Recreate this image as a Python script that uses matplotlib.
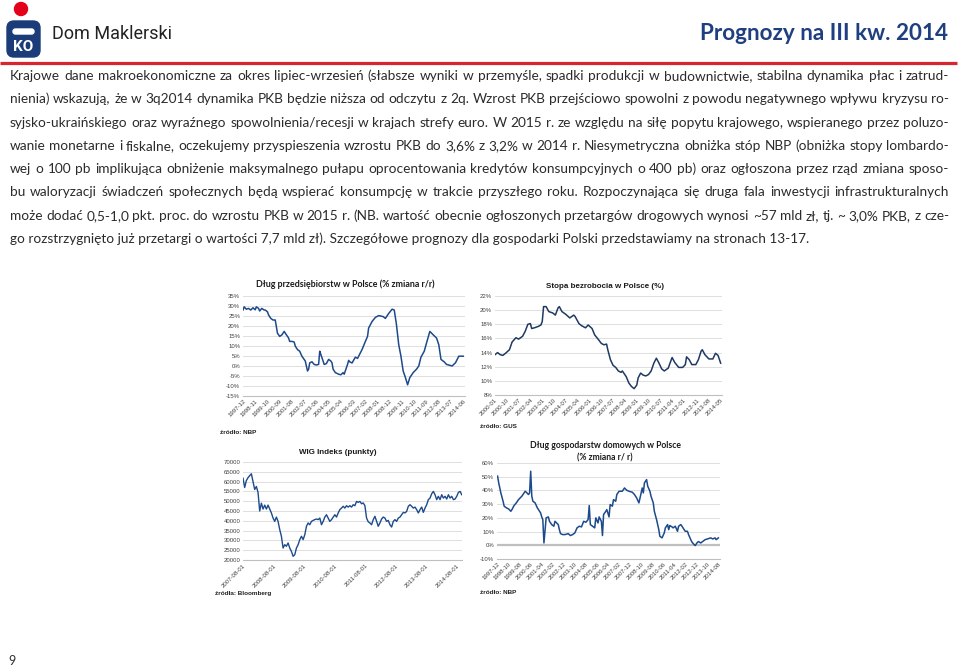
import matplotlib
matplotlib.use("Agg")
import matplotlib.pyplot as plt
from matplotlib.patches import Circle, FancyBboxPatch
from matplotlib.ticker import FuncFormatter
import numpy as np
import pandas as pd

W, H = 960, 668

# ---------------- data ----------------
# Dlug przedsiebiorstw (% r/r), NBP
corp_dates = ["1997-12", "1998-01", "1998-03", "1998-05", "1998-07", "1998-09", "1998-11", "1998-12",
              "1999-02", "1999-03", "1999-05", "1999-07", "1999-08", "1999-10", "1999-11", "2000-01",
              "2000-03", "2000-05", "2000-06", "2000-07", "2000-09", "2000-11", "2001-01", "2001-02",
              "2001-05", "2001-06", "2001-08", "2001-10", "2001-11", "2002-01", "2002-03", "2002-05",
              "2002-07", "2002-08", "2002-10", "2002-11", "2002-12", "2003-02", "2003-04", "2003-06",
              "2003-08", "2003-09", "2003-10", "2003-12", "2004-01", "2004-03", "2004-05", "2004-07",
              "2004-08", "2004-09", "2004-11", "2005-02", "2005-04", "2005-06", "2005-07", "2005-10",
              "2005-11", "2005-12", "2006-02", "2006-05", "2006-07", "2006-11", "2007-02", "2007-04",
              "2007-05", "2007-08", "2007-11", "2008-02", "2008-06", "2008-08", "2008-11", "2009-02",
              "2009-04", "2009-06", "2009-08", "2009-10", "2009-12", "2010-02", "2010-04", "2010-06",
              "2010-09", "2010-12", "2011-02", "2011-04", "2011-07", "2011-09", "2011-12", "2012-03",
              "2012-06", "2012-08", "2012-10", "2013-01", "2013-03", "2013-05", "2013-08", "2013-11",
              "2014-02", "2014-06"]
corp_vals = [28.0, 29.6, 28.4, 28.8, 28.0, 29.1, 28.1, 29.6,
             28.8, 27.5, 28.8, 28.0, 28.0, 27.1, 25.5, 23.8,
             23.0, 23.0, 19.7, 16.4, 14.8, 15.6, 17.3, 16.4,
             14.0, 12.3, 12.3, 12.0, 9.9, 8.2, 7.4, 4.9,
             3.3, 2.5, -2.5, -1.6, 1.6, 2.1, 0.8, 0.5,
             0.8, 7.4, 5.8, 2.5, 0.8, 1.2, 3.3, 2.5,
             1.6, -1.6, -3.3, -4.1, -4.4, -3.3, -4.1, 0.8,
             2.8, 2.1, 1.5, 4.4, 3.8, 8.2, 12.3, 14.8,
             19.0, 22.2, 24.3, 25.2, 24.7, 23.8, 26.3, 28.4,
             28.0, 20.6, 10.7, 4.9, -2.5, -5.8, -9.4, -5.8,
             -3.3, -1.6, 0.0, 4.4, 7.4, 11.5, 17.3, 15.6,
             14.0, 10.7, 3.3, 2.0, 0.8, 0.5, 0.0, 1.6,
             4.9, 4.9]
corp_ticks = ["1997-12", "1998-11", "1999-10", "2000-09", "2001-08", "2002-07", "2003-06", "2004-05",
              "2005-04", "2006-03", "2007-02", "2008-01", "2008-12", "2009-11", "2010-10", "2011-09",
              "2012-08", "2013-07", "2014-06"]

# Stopa bezrobocia (%), GUS
unemp_dates = ["2000-01", "2000-03", "2000-05", "2000-07", "2000-09", "2000-12", "2001-02", "2001-05",
               "2001-07", "2001-10", "2001-12", "2002-02", "2002-04", "2002-05", "2002-07", "2002-10",
               "2002-12", "2003-01", "2003-02", "2003-04", "2003-06", "2003-09", "2003-11", "2004-01",
               "2004-02", "2004-04", "2004-07", "2004-10", "2005-01", "2005-02", "2005-05", "2005-07",
               "2005-10", "2005-12", "2006-03", "2006-05", "2006-08", "2006-10", "2006-12", "2007-02",
               "2007-03", "2007-05", "2007-07", "2007-09", "2007-11", "2008-01", "2008-02", "2008-05",
               "2008-07", "2008-09", "2008-11", "2009-01", "2009-02", "2009-04", "2009-06", "2009-08",
               "2009-10", "2009-12", "2010-02", "2010-04", "2010-06", "2010-08", "2010-10", "2011-01",
               "2011-03", "2011-04", "2011-06", "2011-09", "2011-12", "2012-02", "2012-03", "2012-05",
               "2012-07", "2012-10", "2012-12", "2013-02", "2013-03", "2013-05", "2013-08", "2013-11",
               "2014-01", "2014-03", "2014-05"]
unemp_vals = [13.7, 14.0, 13.7, 13.6, 13.9, 14.4, 15.5, 16.1,
              15.9, 16.3, 17.0, 18.0, 18.1, 17.4, 17.5, 17.7,
              17.9, 18.4, 20.5, 20.5, 19.8, 19.6, 19.3, 20.3,
              20.5, 19.8, 19.4, 18.9, 19.3, 19.1, 18.1, 17.8,
              17.5, 17.9, 17.4, 16.5, 15.8, 15.3, 15.1, 15.2,
              14.4, 13.0, 12.2, 11.9, 11.4, 11.2, 11.4, 10.6,
              9.7, 9.2, 8.9, 9.4, 10.4, 11.1, 10.8, 10.7,
              10.9, 11.4, 12.5, 13.2, 12.5, 11.7, 11.4, 11.8,
              12.8, 13.3, 12.6, 11.9, 11.9, 12.3, 13.4, 13.0,
              12.3, 12.3, 13.0, 14.2, 14.4, 13.7, 13.1, 13.1,
              13.9, 13.6, 12.5]
unemp_ticks = ["2000-01", "2000-10", "2001-07", "2002-04", "2003-01", "2003-10", "2004-07", "2005-04",
               "2006-01", "2006-10", "2007-07", "2008-04", "2009-01", "2009-10", "2010-07", "2011-04",
               "2012-01", "2012-11", "2013-08", "2014-05"]

# WIG (punkty), Bloomberg - one reading every 20 days from 2007-08-01
wig_start = "2007-08-01"
wig_vals = [61800, 57000, 60500, 62000, 63000, 64000, 60000, 56000, 57500, 54500,
            45000, 49000, 46000, 48000, 46000, 48000, 46000, 44000, 41400, 39700,
            41900, 39700, 35500, 32100, 26100, 27800, 27000, 28700, 26100, 24400,
            21900, 22700, 26100, 27800, 30400, 32100, 30400, 32900, 37200, 38900,
            38000, 39700, 40200, 40600, 40900, 40600, 41400, 38000, 39700, 41900,
            43100, 41400, 39700, 40600, 41900, 43100, 41900, 44000, 45700, 46500,
            47400, 46500, 47700, 47000, 47700, 47000, 48200, 47700, 49900, 49400,
            49900, 48700, 49100, 47700, 41400, 39500, 38900, 38000, 40600, 42300,
            39700, 37200, 38900, 40900, 41900, 41400, 39700, 40200, 38000, 36800,
            39700, 40600, 39700, 41400, 41900, 43100, 44300, 44000, 44800, 47400,
            48200, 47400, 46500, 47000, 45700, 44000, 45700, 47000, 44300, 46500,
            48200, 50800, 51600, 53800, 55000, 53300, 50800, 52500, 50800, 53300,
            51600, 52500, 51100, 53300, 51600, 52500, 50800, 51100, 52500, 54500,
            55000, 53300]
wig_ticks = ["2007-08-01", "2008-08-01", "2009-08-01", "2010-08-01", "2011-08-01", "2012-08-01",
             "2013-08-01", "2014-08-01"]

# Dlug gospodarstw domowych (% r/r), NBP
hh_dates = ["1997-12", "1998-01", "1998-03", "1998-05", "1998-06", "1998-08", "1998-10", "1998-12",
            "1999-01", "1999-03", "1999-05", "1999-07", "1999-10", "1999-11", "2000-01", "2000-02",
            "2000-04", "2000-05", "2000-06", "2000-07", "2000-08", "2000-10", "2000-12", "2001-03",
            "2001-04", "2001-05", "2001-06", "2001-08", "2001-10", "2001-11", "2002-01", "2002-03",
            "2002-04", "2002-07", "2002-08", "2002-09", "2002-11", "2003-01", "2003-04", "2003-06",
            "2003-08", "2003-10", "2003-12", "2004-02", "2004-04", "2004-06", "2004-08", "2004-10",
            "2004-11", "2004-12", "2005-02", "2005-04", "2005-05", "2005-07", "2005-08", "2005-10",
            "2005-11", "2005-12", "2006-02", "2006-03", "2006-05", "2006-06", "2006-08", "2006-09",
            "2006-11", "2006-12", "2007-02", "2007-05", "2007-07", "2007-09", "2007-11", "2008-02",
            "2008-04", "2008-06", "2008-08", "2008-09", "2008-11", "2008-12", "2009-01", "2009-03",
            "2009-04", "2009-06", "2009-07", "2009-09", "2009-10", "2009-12", "2010-02", "2010-03",
            "2010-05", "2010-07", "2010-08", "2010-10", "2010-11", "2010-12", "2011-02", "2011-03",
            "2011-05", "2011-07", "2011-08", "2011-10", "2011-11", "2012-01", "2012-02", "2012-04",
            "2012-05", "2012-07", "2012-08", "2012-10", "2012-11", "2013-01", "2013-02", "2013-04",
            "2013-06", "2013-08", "2013-10", "2014-01", "2014-03", "2014-05", "2014-06", "2014-08"]
hh_vals = [50.4, 45.5, 38.2, 32.1, 28.5, 27.3, 26.5, 24.8,
           26.0, 29.0, 30.9, 33.3, 35.8, 37.0, 39.4, 38.7,
           37.0, 38.2, 54.0, 35.8, 32.1, 30.9, 27.3, 23.6,
           20.7, 18.7, 1.7, 20.0, 20.7, 17.5, 15.1, 13.9,
           17.5, 15.1, 11.4, 8.5, 7.8, 7.8, 8.5, 7.1,
           7.8, 9.0, 12.7, 13.9, 13.4, 17.5, 16.8, 18.7,
           29.0, 15.1, 13.9, 12.7, 20.0, 16.3, 20.7, 17.5,
           7.1, 22.4, 24.8, 26.0, 20.7, 29.7, 28.5, 33.3,
           32.1, 37.0, 39.4, 39.4, 41.8, 40.1, 39.4, 38.7,
           37.0, 34.5, 30.9, 34.5, 41.8, 38.2, 45.5, 47.9,
           43.1, 39.4, 35.8, 30.9, 24.8, 18.7, 11.4, 6.6,
           5.4, 9.0, 12.7, 15.1, 11.4, 14.4, 13.4, 12.7,
           13.9, 10.2, 13.9, 15.1, 13.9, 11.4, 10.2, 10.2,
           7.8, 4.1, 2.4, 0.5, -0.2, 2.2, 2.7, 1.7,
           2.9, 4.1, 4.6, 5.4, 4.6, 5.4, 4.1, 5.4]
hh_ticks = ["1997-12", "1998-10", "1999-08", "2000-06", "2001-04", "2002-02", "2002-12", "2003-10",
            "2004-08", "2005-06", "2006-04", "2007-02", "2007-12", "2008-10", "2009-08", "2010-06",
            "2011-04", "2012-02", "2012-12", "2013-10", "2014-08"]

body_lines = [
    "Krajowe dane makroekonomiczne za okres lipiec-wrzesień (słabsze wyniki w przemyśle, spadki produkcji w budownictwie, stabilna dynamika płac i zatrud-",
    "nienia) wskazują, że w 3q2014 dynamika PKB będzie niższa od odczytu z 2q. Wzrost PKB przejściowo spowolni z powodu negatywnego wpływu kryzysu ro-",
    "syjsko-ukraińskiego oraz wyraźnego spowolnienia/recesji w krajach strefy euro. W 2015 r. ze względu na siłę popytu krajowego, wspieranego przez poluzo-",
    "wanie monetarne i fiskalne, oczekujemy przyspieszenia wzrostu PKB do 3,6% z 3,2% w 2014 r. Niesymetryczna obniżka stóp NBP (obniżka stopy lombardo-",
    "wej o 100 pb implikująca obniżenie maksymalnego pułapu oprocentowania kredytów konsumpcyjnych o 400 pb) oraz ogłoszona przez rząd zmiana sposo-",
    "bu waloryzacji świadczeń społecznych będą wspierać konsumpcję w trakcie przyszłego roku. Rozpoczynająca się druga fala inwestycji infrastrukturalnych",
    "może dodać 0,5-1,0 pkt. proc. do wzrostu PKB w 2015 r. (NB. wartość obecnie ogłoszonych przetargów drogowych wynosi ~57 mld zł, tj. ~ 3,0% PKB, z cze-",
    "go rozstrzygnięto już przetargi o wartości 7,7 mld zł). Szczegółowe prognozy dla gospodarki Polski przedstawiamy na stronach 13-17.",
]

# ---------------- page ----------------
plt.rcParams["font.family"] = ["Liberation Sans", "DejaVu Sans"]
fig = plt.figure(figsize=(9.6, 6.68), dpi=100)
page = fig.add_axes([0, 0, 1, 1])
page.set_xlim(0, W)
page.set_ylim(H, 0)
page.axis("off")
renderer = fig.canvas.get_renderer()


def text_w(s, **kw):
    t = page.text(0, 0, s, **kw)
    w = t.get_window_extent(renderer).width
    t.remove()
    return w


def fit_size(s, target, **kw):
    return 10 * target / text_w(s, fontsize=10, **kw)


# logo
page.add_patch(Circle((21, 9), 6.5, color="#e2001a"))
page.add_patch(FancyBboxPatch((7, 21), 33, 36, boxstyle="round,pad=0,rounding_size=7", color="#1b3c78"))
page.add_patch(FancyBboxPatch((13, 29), 21, 5, boxstyle="round,pad=0,rounding_size=2.5", color="white"))
page.text(23.5, 47, "KO", color="white", fontsize=11, fontweight="bold", family="Roboto",
          ha="center", va="center")

s = fit_size("Dom Maklerski", 120, family="Roboto")
page.text(52, 34, "Dom Maklerski", fontsize=s, family="Roboto", color="#222222", va="center")
s = fit_size("Prognozy na III kw. 2014", 248, family="Lato", fontweight="bold")
page.text(948, 33, "Prognozy na III kw. 2014", fontsize=s, family="Lato", fontweight="bold",
          color="#1f3f80", ha="right", va="center")
page.plot([0, 957], [63, 63], color="#d7262f", lw=2.3, solid_capstyle="butt")

# body text, justified
body_kw = dict(family="Lato", color="#2b2b2b")
body_size = fit_size(body_lines[-1], 798, **body_kw)
x0, x1 = 10, 949
for i, line in enumerate(body_lines):
    yb = 80 + 23.3 * i
    if i == len(body_lines) - 1:
        page.text(x0, yb, line, fontsize=body_size, va="baseline", **body_kw)
        continue
    words = line.split(" ")
    widths = [text_w(w, fontsize=body_size, **body_kw) for w in words]
    gap = (x1 - x0 - sum(widths)) / (len(words) - 1)
    x = x0
    for w, wd in zip(words, widths):
        page.text(x, yb, w, fontsize=body_size, va="baseline", **body_kw)
        x += wd + gap

page.text(8, 661, "9", fontsize=9, family="Lato", color="#333333", va="center")


# ---------------- charts ----------------
def add_chart(x0, y0, x1, y1):
    ax = fig.add_axes([x0 / W, 1 - y1 / H, (x1 - x0) / W, (y1 - y0) / H])
    ax.patch.set_alpha(0)
    return ax


def style(ax, lo, hi, step, fmt, ticks, labels, xlim):
    ax.set_ylim(lo, hi)
    ax.set_yticks(np.arange(lo, hi + step / 2, step))
    ax.yaxis.set_major_formatter(FuncFormatter(fmt))
    ax.grid(axis="y", color="#d9d9d9", lw=0.6)
    ax.set_axisbelow(True)
    for side in ["top", "right", "left"]:
        ax.spines[side].set_visible(False)
    ax.spines["bottom"].set_color("#bfbfbf")
    ax.spines["bottom"].set_linewidth(0.8)
    ax.tick_params(length=0, labelsize=4.3, colors="#404040", pad=2)
    ax.set_xticks(ticks)
    ax.set_xticklabels(labels, rotation=45, ha="right", va="top", rotation_mode="anchor")
    ax.set_xlim(*xlim)


pct = lambda v, p: f"{v:.0f}%"
plain = lambda v, p: f"{v:.0f}"
src_kw = dict(fontsize=4.6, fontweight="bold", color="#222222", va="center")

# chart 1
ax1 = add_chart(243, 296, 465, 396)
ax1.plot(pd.to_datetime(corp_dates), corp_vals, color="#1d4a8c", lw=1.1)
style(ax1, -15, 35, 5, pct, pd.to_datetime(corp_ticks), corp_ticks,
      (pd.Timestamp("1997-12-01"), pd.Timestamp("2014-07-20")))
t = "Dług przedsiębiorstw w Polsce (% zmiana r/r)"
page.text(345, 284, t, fontsize=fit_size(t, 179, family="Lato", fontweight="bold"),
          family="Lato", fontweight="bold", color="#1a1a1a", ha="center", va="center")
page.text(220, 432, "źródło: NBP", **src_kw)

# chart 2
ax2 = add_chart(495, 296, 722, 395)
ax2.plot(pd.to_datetime(unemp_dates), unemp_vals, color="#1f3a62", lw=1.1)
style(ax2, 8, 22, 2, pct, pd.to_datetime(unemp_ticks), unemp_ticks,
      (pd.Timestamp("2000-01-01"), pd.Timestamp("2014-06-01")))
t = "Stopa bezrobocia w Polsce (%)"
page.text(605, 287, t, fontsize=fit_size(t, 118, fontweight="bold"),
          fontweight="bold", color="#1a1a1a", ha="center", va="center")
page.text(480, 427, "źródło: GUS", **src_kw)

# chart 3
ax3 = add_chart(243, 462, 462, 560)
wig_dates = pd.date_range(wig_start, periods=len(wig_vals), freq="20D")
ax3.plot(wig_dates, wig_vals, color="#1d4a8c", lw=1.0)
style(ax3, 20000, 70000, 5000, plain, pd.to_datetime(wig_ticks), wig_ticks,
      (pd.Timestamp("2007-08-01"), pd.Timestamp("2014-10-06")))
t = "WIG Indeks (punkty)"
page.text(338, 452, t, fontsize=fit_size(t, 78, fontweight="bold"),
          fontweight="bold", color="#1a1a1a", ha="center", va="center")
page.text(215, 594, "źródła: Bloomberg", **src_kw)

# chart 4
ax4 = add_chart(497, 463, 720, 559)
ax4.axhline(0, color="#bfbfbf", lw=1.6, zorder=1.5)
ax4.plot(pd.to_datetime(hh_dates), hh_vals, color="#1d4a8c", lw=1.1)
style(ax4, -10, 60, 10, pct, pd.to_datetime(hh_ticks), hh_ticks,
      (pd.Timestamp("1997-11-15"), pd.Timestamp("2014-09-15")))
t1 = "Dług gospodarstw domowych w Polsce"
s4 = fit_size(t1, 152, family="Lato", fontweight="bold")
page.text(605, 446, t1, fontsize=s4, family="Lato", fontweight="bold", color="#1a1a1a",
          ha="center", va="center")
page.text(605, 458, "(% zmiana r/ r)", fontsize=s4, family="Lato", fontweight="bold",
          color="#1a1a1a", ha="center", va="center")
page.text(480, 592, "źródło: NBP", **src_kw)

fig.savefig("out.png", dpi=100)
